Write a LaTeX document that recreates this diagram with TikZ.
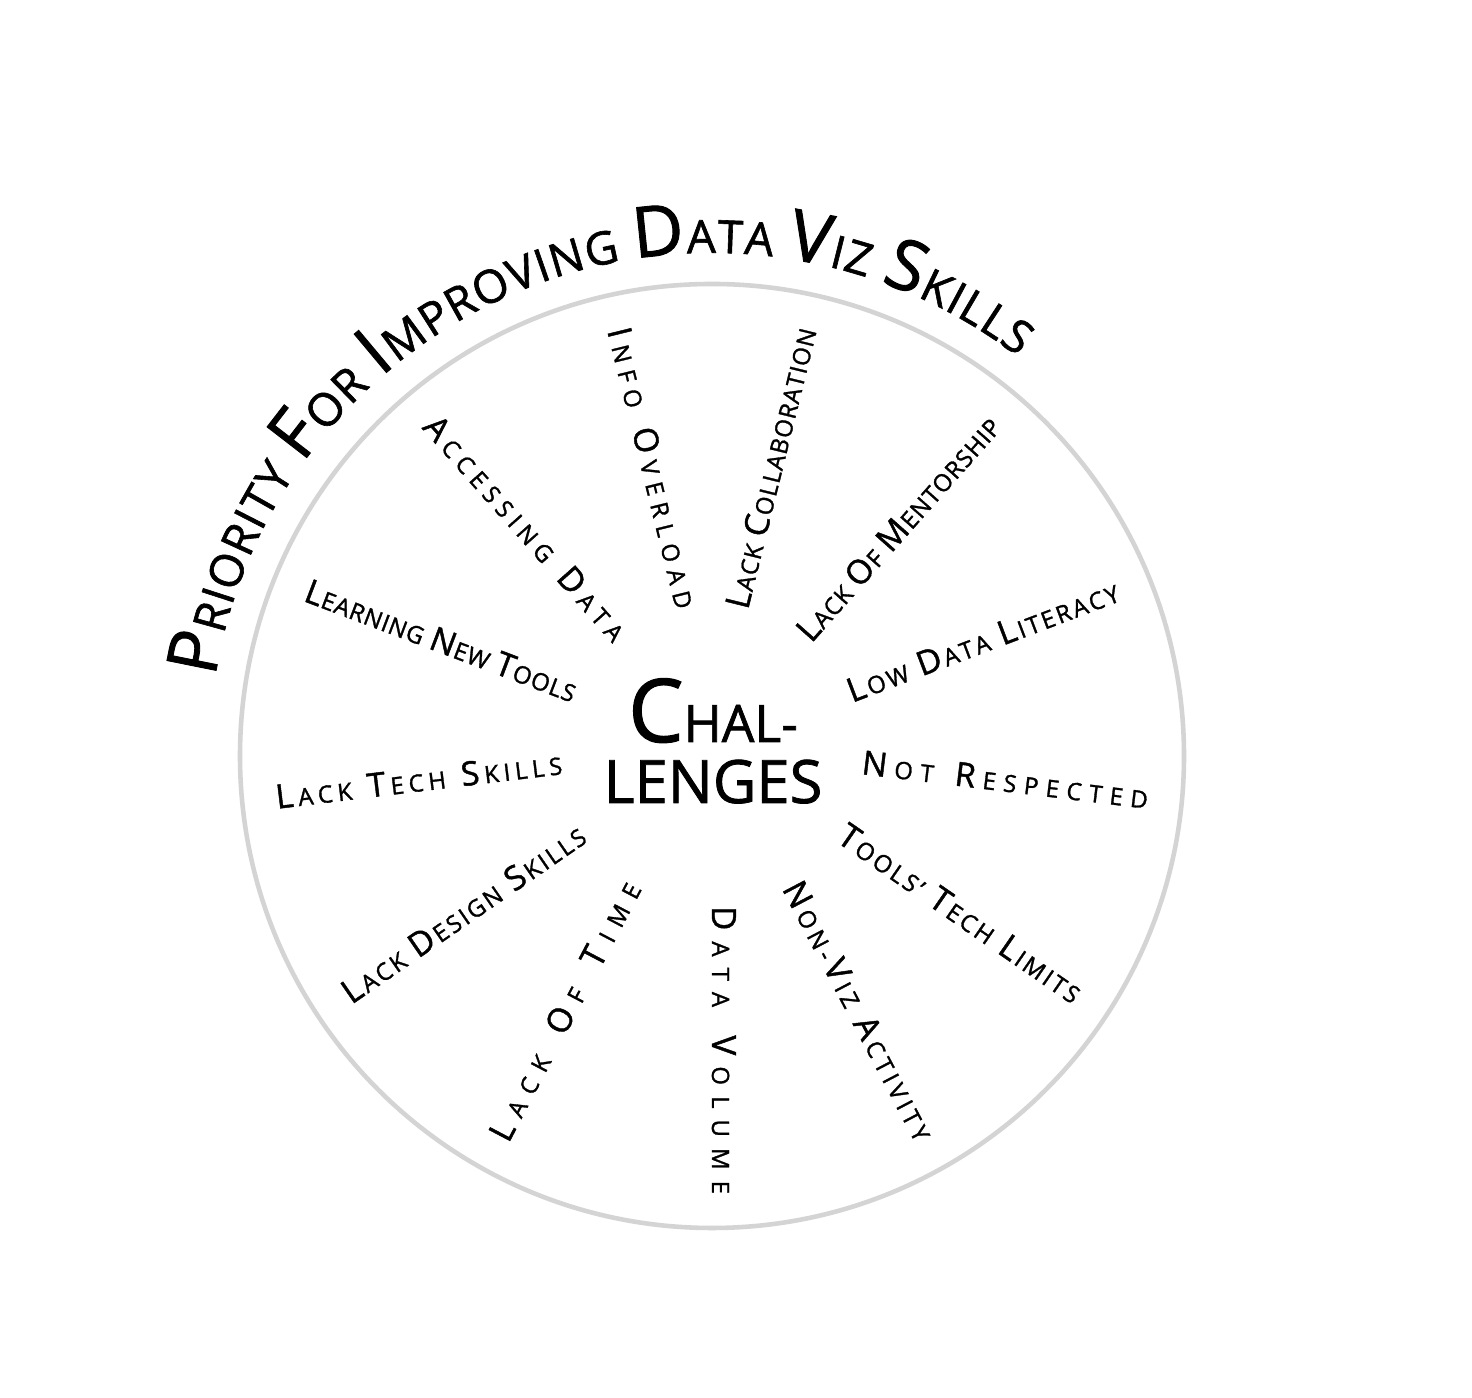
\documentclass[tikz,border=0pt]{standalone}
\usepackage{fontspec}
\setmainfont{Open Sans}[FakeBold=1.3]
\usepackage{tikz}
\usetikzlibrary{calc}
\usetikzlibrary{decorations.text}

\definecolor{rimgray}{HTML}{D4D4D4}
\newcommand{\tbig}{\fontsize{20}{24}\selectfont}
\newcommand{\tsml}{\fontsize{13}{16}\selectfont}
\newcommand{\lbig}{\fontsize{9.5}{11}\selectfont}
\newcommand{\lsml}{\fontsize{6.8}{8}\selectfont}
\newcommand{\cbig}{\fontsize{25}{30}\selectfont}
\newcommand{\cmid}{\fontsize{14.7}{18}\selectfont}
\newcommand{\clen}{\fontsize{17}{20}\selectfont}

\tikzset{
  rim/.style={draw=rimgray, line width=1.3pt},
  spoke/.style={decorate, decoration={text along path, text align=fit to path, text={#1}}},
}

\begin{document}
\begin{tikzpicture} % Wheel

      \newcommand\rinner{1.50}
      \newcommand\router{4.38}

      \path [use as bounding box, fill=white] (0, 0) rectangle (14.72, 13.98);
      \coordinate (C) at (7.12, 6.42);

      \draw [rim] (C) circle (4.72);

      \path [spoke={|\tbig|P|\tsml|RIORITY |\tbig|F|\tsml|OR |\tbig|I|\tsml|MPROVING |\tbig|D|\tsml|ATA |\tbig|V|\tsml|IZ |\tbig|S|\tsml|KILLS}]
      ([shift={(C)}]171:5.03) arc [start angle=171, end angle=52.5, radius=5.03];

      \node [anchor=base] (chal) at (7.13, 6.56) {\cbig C\cmid HAL-};
      \node [anchor=base] (lenges) at (7.13, 5.95) {\clen LENGES};

      % reading outward
      \path [spoke={|\lbig|L|\lsml|ACK |\lbig|C|\lsml|OLLABORATION}]
      ($(C)+(76.15:\rinner)$) -- ($(C)+(76.15:\router)$);
      \path [spoke={|\lbig|L|\lsml|ACK |\lbig|O|\lsml|F |\lbig|M|\lsml|ENTORSHIP}]
      ($(C)+(48.46:\rinner)$) -- ($(C)+(48.46:\router)$);
      \path [spoke={|\lbig|L|\lsml|OW |\lbig|D|\lsml|ATA |\lbig|L|\lsml|ITERACY}]
      ($(C)+(20.77:\rinner)$) -- ($(C)+(20.77:\router)$);
      \path [spoke={|\lbig|N|\lsml|OT |\lbig|R|\lsml|ESPECTED}]
      ($(C)+(-6.92:\rinner)$) -- ($(C)+(-6.92:\router)$);
      \path [spoke={|\lbig|T|\lsml|OOLS' |\lbig|T|\lsml|ECH |\lbig|L|\lsml|IMITS}]
      ($(C)+(-34.62:\rinner)$) -- ($(C)+(-34.62:\router)$);
      \path [spoke={|\lbig|N|\lsml|ON-|\lbig|V|\lsml|IZ |\lbig|A|\lsml|CTIVITY}]
      ($(C)+(-62.31:\rinner)$) -- ($(C)+(-62.31:\router)$);
      \path [spoke={|\lbig|D|\lsml|ATA |\lbig|V|\lsml|OLUME}]
      ($(C)+(-90:\rinner)$) -- ($(C)+(-90:\router)$);

      % reading inward
      \path [spoke={|\lbig|L|\lsml|ACK |\lbig|O|\lsml|F |\lbig|T|\lsml|IME}]
      ($(C)+(-117.69:\router)$) -- ($(C)+(-117.69:\rinner)$);
      \path [spoke={|\lbig|L|\lsml|ACK |\lbig|D|\lsml|ESIGN |\lbig|S|\lsml|KILLS}]
      ($(C)+(-145.38:\router)$) -- ($(C)+(-145.38:\rinner)$);
      \path [spoke={|\lbig|L|\lsml|ACK |\lbig|T|\lsml|ECH |\lbig|S|\lsml|KILLS}]
      ($(C)+(-173.08:\router)$) -- ($(C)+(-173.08:\rinner)$);
      \path [spoke={|\lbig|L|\lsml|EARNING |\lbig|N|\lsml|EW |\lbig|T|\lsml|OOLS}]
      ($(C)+(159.23:\router)$) -- ($(C)+(159.23:\rinner)$);
      \path [spoke={|\lbig|A|\lsml|CCESSING |\lbig|D|\lsml|ATA}]
      ($(C)+(131.54:\router)$) -- ($(C)+(131.54:\rinner)$);
      \path [spoke={|\lbig|I|\lsml|NFO |\lbig|O|\lsml|VERLOAD}]
      ($(C)+(103.85:\router)$) -- ($(C)+(103.85:\rinner)$);

    \end{tikzpicture}
\end{document}
